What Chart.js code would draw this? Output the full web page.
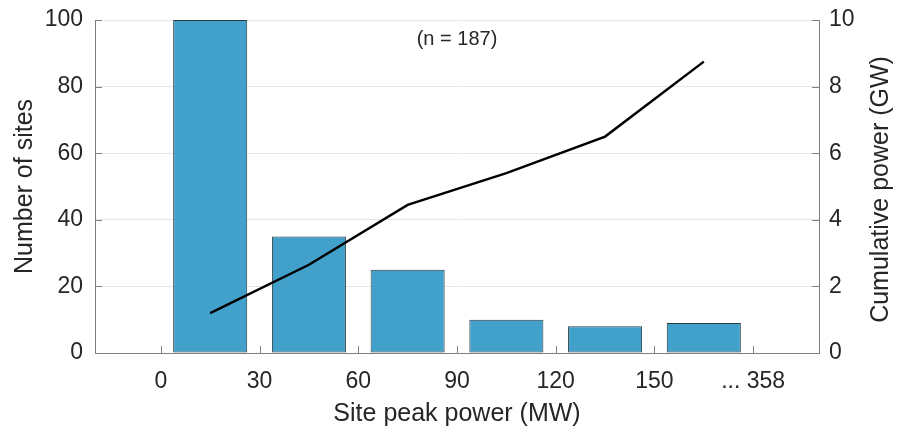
<!DOCTYPE html>
<html>
<head>
<meta charset="utf-8">
<script src="https://cdn.jsdelivr.net/npm/chart.js@4.4.0/dist/chart.umd.min.js"></script>
<style>
  body { margin: 0; background: #fff; }
</style>
</head>
<body>
<canvas id="powerChart" width="897" height="430"></canvas>
<script>
// Data
const binCenters = [15, 45, 75, 105, 135, 165];
const siteCounts = [100, 35, 25, 10, 8, 9];
const cumulativeGW = [1.2, 2.65, 4.45, 5.4, 6.5, 8.75];
const xTickValues = [0, 30, 60, 90, 120, 150, 180];
const xTickLabels = ['0', '30', '60', '90', '120', '150', '... 358'];
const noteText = '(n = 187)';

const FONT = '"Liberation Sans", Arial, Helvetica, sans-serif';
const TEXT = '#262626';
const AXIS = '#808080';

// inward tick marks + right title (reads bottom to top) + the n label
const extras = {
  id: 'extras',
  afterDatasetsDraw(chart) {
    const { ctx, chartArea, scales } = chart;
    const x = scales.x, yl = scales.y, yr = scales.y2;
    ctx.save();
    ctx.strokeStyle = AXIS;
    ctx.lineWidth = 1;
    ctx.beginPath();
    xTickValues.forEach(v => {
      const px = Math.round(x.getPixelForValue(v)) + 0.5;
      ctx.moveTo(px, chartArea.bottom);
      ctx.lineTo(px, chartArea.bottom - 7);
    });
    yl.ticks.forEach(t => {
      const py = Math.round(yl.getPixelForValue(t.value)) + 0.5;
      ctx.moveTo(chartArea.left, py);
      ctx.lineTo(chartArea.left + 7, py);
    });
    yr.ticks.forEach(t => {
      const py = Math.round(yr.getPixelForValue(t.value)) + 0.5;
      ctx.moveTo(chartArea.right, py);
      ctx.lineTo(chartArea.right - 7, py);
    });
    ctx.stroke();

    ctx.fillStyle = TEXT;
    ctx.font = '20px ' + FONT;
    ctx.textAlign = 'center';
    ctx.textBaseline = 'middle';
    ctx.fillText(noteText, x.getPixelForValue(90), yl.getPixelForValue(94));

    ctx.translate(881, (chartArea.top + chartArea.bottom) / 2 + 3);
    ctx.rotate(-Math.PI / 2);
    ctx.font = '25px ' + FONT;
    ctx.fillText('Cumulative power (GW)', 0, 0);
    ctx.restore();
  }
};

// drop the label padding so the plot box sits where the picture has it
const noPad = w => s => { s.width = w; s.paddingTop = 0; s.paddingBottom = 0; };

const ctx = document.getElementById('powerChart').getContext('2d');
new Chart(ctx, {
  type: 'bar',
  data: {
    datasets: [{
      type: 'line',
      data: binCenters.map((c, i) => ({ x: c, y: cumulativeGW[i] })),
      yAxisID: 'y2',
      borderColor: '#000',
      borderWidth: 2.5,
      pointRadius: 0,
      tension: 0,
      order: 0
    }, {
      type: 'bar',
      data: binCenters.map((c, i) => ({ x: c, y: siteCounts[i] })),
      yAxisID: 'y',
      backgroundColor: '#42a1cb',
      borderColor: '#2a3b42',
      borderWidth: 1,
      borderSkipped: false,
      categoryPercentage: 0.75,
      barPercentage: 1,
      order: 1
    }]
  },
  options: {
    responsive: false,
    animation: false,
    layout: { padding: { top: 20, left: 0, right: 0, bottom: 0 } },
    plugins: { legend: { display: false }, tooltip: { enabled: false } },
    scales: {
      x: {
        type: 'linear',
        offset: false,
        min: -20,
        max: 200,
        afterBuildTicks: s => { s.ticks = xTickValues.map(v => ({ value: v })); },
        afterFit: s => { s.height = 77; },
        grid: { display: false },
        border: { display: true, color: AXIS, width: 1 },
        ticks: {
          color: TEXT,
          font: { family: FONT, size: 23 },
          padding: 7,
          maxRotation: 0,
          autoSkip: false,
          callback: v => xTickLabels[xTickValues.indexOf(v)]
        },
        title: {
          display: true,
          text: 'Site peak power (MW)',
          color: TEXT,
          font: { family: FONT, size: 25 },
          padding: { top: 0, bottom: 1 }
        }
      },
      y: {
        position: 'left',
        min: 0,
        max: 100,
        afterFit: noPad(95),
        grid: { color: '#e6e6e6', lineWidth: 1, drawTicks: false },
        border: { display: true, color: AXIS, width: 1 },
        ticks: {
          stepSize: 20,
          color: TEXT,
          font: { family: FONT, size: 23 },
          padding: 12
        },
        title: {
          display: true,
          text: 'Number of sites',
          color: TEXT,
          font: { family: FONT, size: 25 },
          padding: { top: 10 }
        }
      },
      y2: {
        position: 'right',
        min: 0,
        max: 10,
        afterFit: noPad(78),
        grid: { display: false, drawTicks: false },
        border: { display: true, color: AXIS, width: 1 },
        ticks: {
          stepSize: 2,
          color: TEXT,
          font: { family: FONT, size: 23 },
          padding: 10
        }
      }
    }
  },
  plugins: [extras]
});
</script>
</body>
</html>
